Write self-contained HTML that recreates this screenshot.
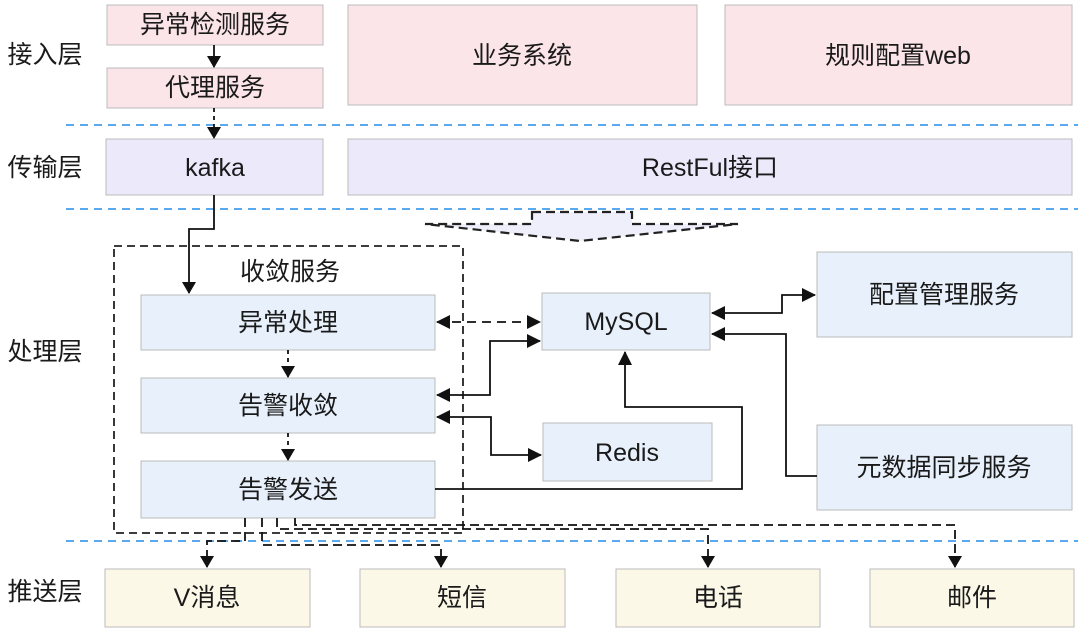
<!DOCTYPE html>
<html><head><meta charset="utf-8"><style>
html,body{margin:0;padding:0;background:#fff;}
svg text{font-family:"Liberation Sans","Noto Sans CJK SC",sans-serif;fill:#1a1a1a;}
</style></head><body>
<svg width="1080" height="630" viewBox="0 0 1080 630" xmlns="http://www.w3.org/2000/svg">
<defs>
<marker id="a" markerWidth="12" markerHeight="14" refX="11" refY="7" orient="auto" markerUnits="userSpaceOnUse"><path d="M0,0 L12,7 L0,14 z" fill="#111"/></marker>
<marker id="as" markerWidth="14" markerHeight="14" refX="1" refY="7" orient="auto" markerUnits="userSpaceOnUse"><path d="M14,0 L0,7 L14,14 z" fill="#111"/></marker>
<marker id="ae" markerWidth="14" markerHeight="14" refX="13" refY="7" orient="auto" markerUnits="userSpaceOnUse"><path d="M0,0 L14,7 L0,14 z" fill="#111"/></marker>
</defs>
<g stroke="#bbb" stroke-width="1">
<rect x="107" y="5" width="216" height="40" fill="#fbe5e8"/>
<rect x="107" y="68" width="216" height="40" fill="#fbe5e8"/>
<rect x="348" y="5" width="349" height="100" fill="#fbe5e8"/>
<rect x="725" y="5" width="347" height="100" fill="#fbe5e8"/>
<rect x="106" y="139" width="217" height="56" fill="#ece9fb"/>
<rect x="348" y="139" width="724" height="56" fill="#ece9fb"/>
<rect x="141" y="295" width="294" height="55" fill="#e7f0fb"/>
<rect x="141" y="378" width="294" height="55" fill="#e7f0fb"/>
<rect x="141" y="461" width="294" height="57" fill="#e7f0fb"/>
<rect x="542" y="293" width="168" height="57" fill="#e7f0fb"/>
<rect x="543" y="423" width="169" height="58" fill="#e7f0fb"/>
<rect x="817" y="252" width="255" height="85" fill="#e7f0fb"/>
<rect x="817" y="425" width="255" height="85" fill="#e7f0fb"/>
<rect x="105" y="569" width="205" height="58" fill="#fcf8e8"/>
<rect x="360" y="569" width="205" height="58" fill="#fcf8e8"/>
<rect x="616" y="569" width="204" height="58" fill="#fcf8e8"/>
<rect x="870" y="569" width="204" height="58" fill="#fcf8e8"/>
</g>
<g stroke="#5aa8ee" stroke-width="2" stroke-dasharray="8,6">
<line x1="66" y1="125" x2="1078" y2="125"/>
<line x1="66" y1="209" x2="1078" y2="209"/>
<line x1="66" y1="541" x2="1078" y2="541"/>
</g>
<polygon points="532,212 632,212 632,224 738,224 580,241 425,224 532,224" fill="#efeefb" stroke="#222" stroke-width="2.2" stroke-dasharray="9,5"/>
<rect x="114" y="246" width="349" height="287" fill="none" stroke="#222" stroke-width="1.8" stroke-dasharray="8,5"/>
<g fill="none" stroke="#111" stroke-width="1.8">
<line x1="214" y1="45" x2="214" y2="67" marker-end="url(#a)"/>
<line x1="214" y1="108" x2="214" y2="138" stroke-dasharray="4,4" marker-end="url(#a)"/>
<polyline points="214,195 214,229 189,229 189,293" marker-end="url(#a)"/>
<line x1="288" y1="350" x2="288" y2="377" stroke-dasharray="4,4" marker-end="url(#a)"/>
<line x1="288" y1="433" x2="288" y2="460" stroke-dasharray="4,4" marker-end="url(#a)"/>
<line x1="437" y1="322" x2="540" y2="322" stroke-dasharray="9,6" marker-start="url(#as)" marker-end="url(#ae)"/>
<polyline points="437,395 490,395 490,341 540,341" marker-start="url(#as)" marker-end="url(#ae)"/>
<polyline points="437,417 491,417 491,455 541,455" marker-start="url(#as)" marker-end="url(#ae)"/>
<polyline points="435,489 742,489 742,407 625,407 625,352" marker-end="url(#ae)"/>
<polyline points="712,313 782,313 782,295 815,295" marker-start="url(#as)" marker-end="url(#ae)"/>
<polyline points="817,476 786,476 786,334 712,334" marker-end="url(#ae)"/>
<g stroke-dasharray="9,5">
<polyline points="245,518 245,541 207,541 207,567" marker-end="url(#a)"/>
<polyline points="262,518 262,545 441,545 441,567" marker-end="url(#a)"/>
<polyline points="277,518 277,529 708,529 708,567" marker-end="url(#a)"/>
<polyline points="295,518 295,525 955,525 955,567" marker-end="url(#a)"/>
</g>
</g>
<g font-size="25" text-anchor="middle" dominant-baseline="central">
<text x="45" y="55">接入层</text>
<text x="45" y="168">传输层</text>
<text x="45" y="352">处理层</text>
<text x="45" y="592">推送层</text>
<text x="215" y="25">异常检测服务</text>
<text x="215" y="88">代理服务</text>
<text x="522" y="56">业务系统</text>
<text x="898" y="56">规则配置web</text>
<text x="215" y="168">kafka</text>
<text x="710" y="168">RestFul接口</text>
<text x="290" y="272">收敛服务</text>
<text x="288" y="323">异常处理</text>
<text x="288" y="406">告警收敛</text>
<text x="288" y="490">告警发送</text>
<text x="626" y="322">MySQL</text>
<text x="627" y="453">Redis</text>
<text x="944" y="295">配置管理服务</text>
<text x="944" y="468">元数据同步服务</text>
<text x="207" y="598">V消息</text>
<text x="462" y="598">短信</text>
<text x="718" y="598">电话</text>
<text x="972" y="598">邮件</text>
</g>
</svg>
</body></html>
